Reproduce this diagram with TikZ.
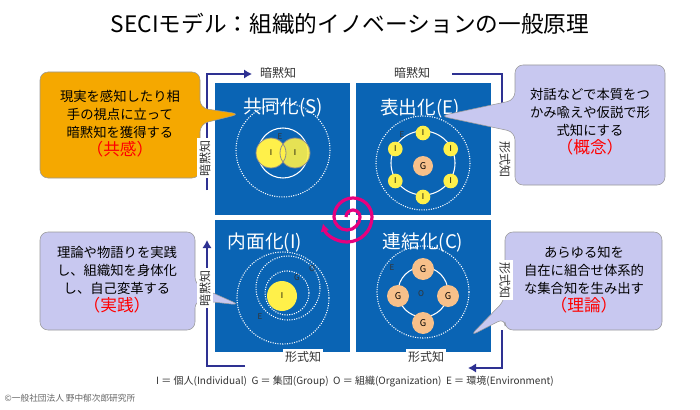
\documentclass[tikz,border=0pt]{standalone}
\usepackage{fontspec}
\setmainfont{Noto Sans CJK JP}
\usetikzlibrary{arrows.meta}
\definecolor{quad}{HTML}{0A64B4}
\definecolor{navy}{HTML}{2E3192}
\definecolor{lav}{HTML}{C8C8F0}
\definecolor{gold}{HTML}{F5A800}
\definecolor{pinkish}{HTML}{E6007E}
\definecolor{cyel}{HTML}{FFF04A}
\definecolor{corg}{HTML}{F7C08A}
\tikzset{
  quadbox/.style={fill=quad, draw=none},
  qtitle/.style={white, font=\fontsize{14}{14}\selectfont},
  flowarr/.style={navy, line width=2pt, -{Latex[length=6pt,width=7pt]}},
  sidelab/.style={font=\fontsize{9}{9}\selectfont, text=black!80, fill=white, inner sep=1.5pt},
  callout/.style={draw=black!40, line width=0.4pt, rounded corners=6pt},
  calltext/.style={align=center, font=\fontsize{10}{13.5}\selectfont},
  dotring/.style={white, densely dotted, line width=0.8pt},
  ring/.style={white, line width=0.8pt},
  pi/.style={circle, fill=cyel, inner sep=0pt, minimum size=#1, font=\itshape\fontsize{6}{6}\selectfont},
  pg/.style={circle, fill=corg, inner sep=0pt, minimum size=#1, font=\itshape\fontsize{7}{7}\selectfont},
  lab/.style={font=\itshape\fontsize{6}{6}\selectfont, text=black!80},
}
\begin{document}
\begin{tikzpicture}[x=0.75pt,y=-0.75pt]
\useasboundingbox[fill=white] (0,0) rectangle (700,410);
\node (title) at (350,24) {\fontsize{17}{17}\selectfont SECIモデル：組織的イノベーションの一般原理};
% frame arrows
\draw[flowarr] (207,190) -- (207,74) -- (252,74);
\draw[flowarr] (452,74) -- (502,74) -- (502,118);
\draw[flowarr] (502,330) -- (502,368) -- (468,368);
\draw[flowarr] (245,366) -- (207,366) -- (207,240);
% quadrants
\fill[quadbox] (215,83) rectangle (350,215);
\fill[quadbox] (356,83) rectangle (491,215);
\fill[quadbox] (215,220) rectangle (350,352);
\fill[quadbox] (356,220) rectangle (491,352);
\node[qtitle] (ts) at (283,108) {共同化(S)};
\node[qtitle] (te) at (420,108) {表出化(E)};
\node[qtitle] (ti) at (265,242) {内面化(I)};
\node[qtitle] (tc) at (423,242) {連結化(C)};
% S quadrant
\draw[dotring] (283,150) circle (47);
\draw[ring] (283,153) circle (25);
\node[pi=22.5pt] (s1) at (271,153) {I};
\node[pi=22.5pt, fill opacity=0.9, text opacity=1] (s2) at (295,153) {I};
\draw[black!45, line width=0.6pt] (271,153) circle (15) (295,153) circle (15);
\node[lab] (se) at (280,137) {E};
% E quadrant
\draw[dotring] (423,163) circle (47);
\draw[ring] (423,163) circle (32);
\node[pg=15pt] (eg) at (423,166) {G};
\foreach \a [count=\k] in {90,30,-30,-90,-150,150}
  \node[pi=11pt] (ei\k) at ({423+32*cos(\a)},{165-32*sin(\a)}) {I};
\node[lab] (ee) at (402,135) {E};
% I quadrant
\draw[dotring] (283,298) circle (46);
\draw[dotring] (288,288) circle (32);
\draw[dotring] (287,293) circle (22);
\node[pi=22.5pt] (ii) at (282,296) {I};
\node[lab] (io) at (312,269) {O};
\node[lab] (ig) at (297,278) {G};
\node[lab] (ie) at (260,317) {E};
% C quadrant
\draw[dotring] (423,292) circle (46);
\draw[ring] (423,292) circle (25);
\foreach \x/\y [count=\k] in {423/269,398/296,448/296,423/323}
  \node[pg=16.5pt] (cg\k) at (\x,\y) {G};
\node[lab] (co) at (421,294) {O};
\node[lab] (ce) at (392,268) {E};
% spiral
\draw[pinkish, line width=2.4pt, -{Latex[length=6pt,width=7pt]}]
  (346,217) arc[start angle=180, end angle=360, radius=7]
  arc[start angle=0, end angle=180, radius=13]
  arc[start angle=180, end angle=360, radius=19]
  arc[start angle=0, end angle=165, radius=25];
% callouts
\fill[gold, callout] (40,72) -- (200,72) -- (200,108) -- (240,114) -- (200,124) -- (200,178) -- (40,178) -- cycle;
\node[calltext] (cs) at (120,124) {現実を感知したり相\\手の視点に立って\\暗黙知を獲得する\\{\fontsize{12.5}{14}\selectfont\color{red}（共感）}};
\fill[lav, callout] (515,65) -- (665,65) -- (665,185) -- (515,185) -- (515,132) -- (440,116) -- (515,100) -- cycle;
\node[calltext] (ce2) at (590,122) {対話などで本質をつ\\かみ喩えや仮説で形\\式知にする\\{\fontsize{12.5}{14}\selectfont\color{red}（概念）}};
\fill[lav, callout] (40,232) -- (195,232) -- (195,285) -- (240,305) -- (195,300) -- (195,330) -- (40,330) -- cycle;
\node[calltext] (ci2) at (117,280) {理論や物語りを実践\\し、組織知を身体化\\し、自己変革する\\{\fontsize{12.5}{14}\selectfont\color{red}（実践）}};
\fill[lav, callout] (505,232) -- (662,232) -- (662,330) -- (505,330) -- (505,318) -- (470,336) -- (505,300) -- cycle;
\node[calltext] (cc2) at (584,280) {あらゆる知を\\自在に組合せ体系的\\な集合知を生み出す\\{\fontsize{12.5}{14}\selectfont\color{red}（理論）}};
% side labels
\node[sidelab] (l1) at (278,73) {暗黙知};
\node[sidelab] (l2) at (412,73) {暗黙知};
\node[sidelab, rotate=90] (l3) at (205,158) {暗黙知};
\node[sidelab, rotate=90] (l4) at (205,288) {暗黙知};
\node[sidelab, rotate=-90] (l5) at (505,160) {形式知};
\node[sidelab, rotate=-90] (l6) at (505,280) {形式知};
\node[sidelab] (l7) at (303,357) {形式知};
\node[sidelab] (l8) at (426,357) {形式知};
% legend
\node[font=\fontsize{7.5}{8}\selectfont, text=black!80] (leg) at (355,382) {I ＝ 個人(Individual)\ \ G ＝ 集団(Group)\ \ O ＝ 組織(Organization)\ \ E ＝ 環境(Environment)};
\node[anchor=west, font=\fontsize{6.5}{7}\selectfont, text=black!60] (copy) at (0,398) {©一般社団法人 野中郁次郎研究所};
\end{tikzpicture}
\end{document}
